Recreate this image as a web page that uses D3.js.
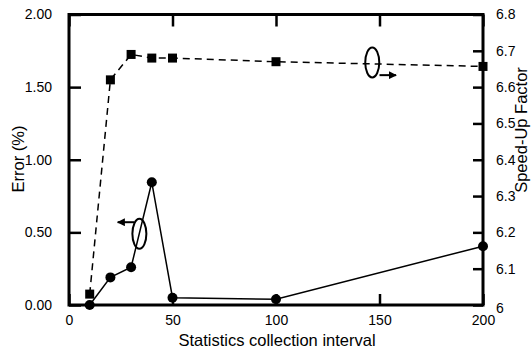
<!DOCTYPE html>
<html>
<head>
<meta charset="utf-8">
<script src="https://cdn.jsdelivr.net/npm/d3@7"></script>
<style>
  body { margin: 0; background: #fff; }
  text { font-family: "Liberation Sans", Arial, sans-serif; fill: #000; }
</style>
</head>
<body>
<svg id="canvas" width="531" height="354"></svg>
<script>
let intervals = [10, 20, 30, 40, 50, 100, 200]
let errorPct = [0.00, 0.19, 0.26, 0.845, 0.05, 0.04, 0.405]
let speedUp = [6.03, 6.62, 6.69, 6.68, 6.68, 6.67, 6.657]

let xTicks = [0, 50, 100, 150, 200]
let leftTicks = [0, 0.5, 1.0, 1.5, 2.0]
let rightTicks = [6, 6.1, 6.2, 6.3, 6.4, 6.5, 6.6, 6.7, 6.8]

let svg = d3.select("#canvas")

let plotL = 69, plotR = 483, plotT = 14.5, plotB = 305

let xScale = d3.scaleLinear().domain([0, 200]).range([plotL, plotR])
let yLeft = d3.scaleLinear().domain([0, 2]).range([plotB, plotT])
let yRight = d3.scaleLinear().domain([6, 6.8]).range([plotB, plotT])

// axes with inward ticks
let fmt2 = d3.format(".2f")

let leftAxis = svg.append("g").attr("transform", "translate(" + plotL + ",0)")
    .call(d3.axisLeft(yLeft).tickValues(leftTicks).tickFormat(fmt2).tickSize(-12).tickPadding(17))
let rightAxis = svg.append("g").attr("transform", "translate(" + plotR + ",0)")
    .call(d3.axisRight(yRight).tickValues(rightTicks)
        .tickFormat(d => d === 6 ? "6" : d3.format(".1f")(d)).tickSize(-10).tickPadding(13))
let bottomAxis = svg.append("g").attr("transform", "translate(0," + plotB + ")")
    .call(d3.axisBottom(xScale).tickValues(xTicks).tickSize(-11).tickPadding(10))
let topAxis = svg.append("g").attr("transform", "translate(0," + plotT + ")")
    .call(d3.axisTop(xScale).tickValues(xTicks).tickSize(-12).tickFormat(""))

svg.selectAll(".domain").remove()
svg.selectAll(".tick line").attr("stroke", "#000").attr("stroke-width", 2.5)
svg.selectAll(".tick text").attr("font-size", 14).attr("fill", "#000")
    .style("font-family", "'Liberation Sans', Arial, sans-serif")
rightAxis.selectAll(".tick text").attr("dy", d => d === 6 ? "0.5em" : "0.32em")

// frame
svg.append("rect")
    .attr("x", plotL).attr("y", plotT)
    .attr("width", plotR - plotL).attr("height", plotB - plotT)
    .attr("fill", "none").attr("stroke", "#000").attr("stroke-width", 3)

// speed-up series (dashed, squares)
let sLine = d3.line().x((d, i) => xScale(intervals[i])).y(d => yRight(d))
svg.append("path")
    .attr("d", sLine(speedUp))
    .attr("fill", "none").attr("stroke", "#000")
    .attr("stroke-width", 1.5).attr("stroke-dasharray", "7,5")
svg.selectAll(".sq").data(speedUp).enter().append("rect")
    .attr("x", (d, i) => xScale(intervals[i]) - 4.5)
    .attr("y", d => yRight(d) - 4.5)
    .attr("width", 9).attr("height", 9).attr("fill", "#000")

// error series (solid, circles)
let eLine = d3.line().x((d, i) => xScale(intervals[i])).y(d => yLeft(d))
svg.append("path")
    .attr("d", eLine(errorPct))
    .attr("fill", "none").attr("stroke", "#000").attr("stroke-width", 1.5)
svg.selectAll(".dot").data(errorPct).enter().append("circle")
    .attr("cx", (d, i) => xScale(intervals[i]))
    .attr("cy", d => yLeft(d))
    .attr("r", 5).attr("fill", "#000")

// arrow marker
svg.append("defs").append("marker")
    .attr("id", "arr").attr("viewBox", "0 0 10 10")
    .attr("refX", 9).attr("refY", 5)
    .attr("markerWidth", 8).attr("markerHeight", 8)
    .attr("markerUnits", "userSpaceOnUse")
    .attr("orient", "auto")
    .append("path").attr("d", "M0,0 L10,5 L0,10 Z").attr("fill", "#000")

// ellipses pointing to each axis
svg.append("ellipse")
    .attr("cx", xScale(34)).attr("cy", yLeft(0.49))
    .attr("rx", 7).attr("ry", 15)
    .attr("fill", "none").attr("stroke", "#000").attr("stroke-width", 2)
svg.append("line")
    .attr("x1", xScale(31.5)).attr("y1", yLeft(0.57))
    .attr("x2", xScale(23.5)).attr("y2", yLeft(0.57))
    .attr("stroke", "#000").attr("stroke-width", 2).attr("marker-end", "url(#arr)")

svg.append("ellipse")
    .attr("cx", xScale(146.5)).attr("cy", yRight(6.668))
    .attr("rx", 7).attr("ry", 15)
    .attr("fill", "none").attr("stroke", "#000").attr("stroke-width", 2)
svg.append("line")
    .attr("x1", xScale(150)).attr("y1", yRight(6.633))
    .attr("x2", xScale(158)).attr("y2", yRight(6.633))
    .attr("stroke", "#000").attr("stroke-width", 2).attr("marker-end", "url(#arr)")

// axis titles
svg.append("text")
    .attr("x", 277).attr("y", 346)
    .attr("text-anchor", "middle").attr("font-size", 16.5)
    .text("Statistics collection interval")
svg.append("text")
    .attr("transform", "translate(24,159) rotate(-90)")
    .attr("text-anchor", "middle").attr("font-size", 16.5)
    .text("Error (%)")
svg.append("text")
    .attr("transform", "translate(527,130) rotate(-90)")
    .attr("text-anchor", "middle").attr("font-size", 16.5)
    .text("Speed-Up Factor")
</script>
</body>
</html>
